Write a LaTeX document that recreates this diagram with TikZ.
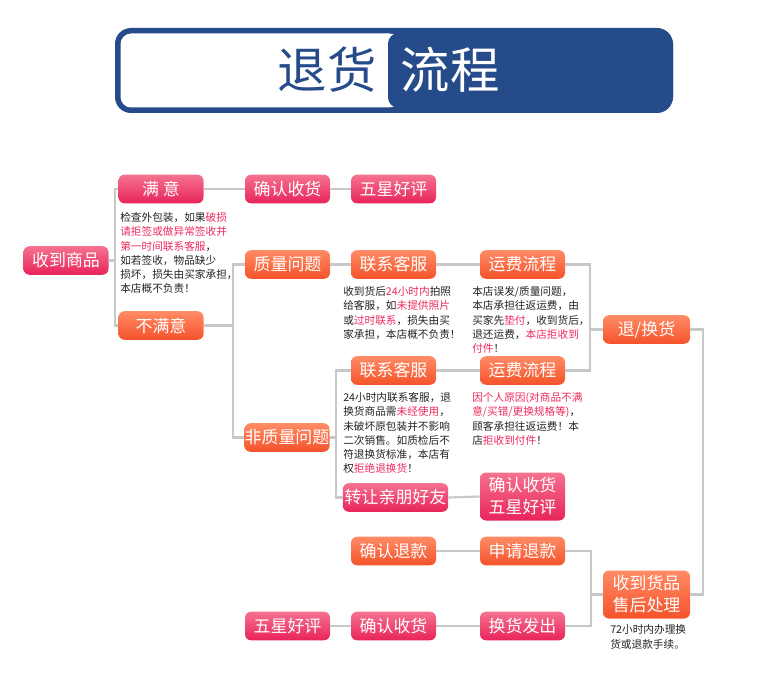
\documentclass[tikz,border=0pt]{standalone}
\usepackage{fontspec}
\setmainfont{Noto Sans CJK SC}
\usepackage{xcolor}
\usetikzlibrary{positioning,calc}

\definecolor{navy}{HTML}{264B8A}
\definecolor{pinktop}{HTML}{F5728F}
\definecolor{pinkbot}{HTML}{E8245A}
\definecolor{orangetop}{HTML}{FF8C66}
\definecolor{orangebot}{HTML}{F5522A}
\definecolor{linegray}{HTML}{C8C8C8}
\definecolor{alertred}{HTML}{EE2A5E}
\definecolor{textdark}{HTML}{222222}

\newcommand{\redtxt}[1]{\textcolor{alertred}{#1}}

\tikzset{
	box/.style={rounded corners=4.5pt, minimum width=63.75pt, minimum height=21.4pt, inner sep=0pt, text=white, font=\fontsize{12.7}{16.5}\selectfont, align=center},
	pinkbox/.style={box, top color=pinktop, bottom color=pinkbot},
	orangebox/.style={box, top color=orangetop, bottom color=orangebot},
	tallbox/.style={minimum height=36pt},
	note/.style={anchor=north west, inner sep=0pt, align=left, text=textdark, font=\fontsize{8}{10.6}\selectfont},
	link/.style={draw=linegray, line width=1.6pt}
}

\begin{document}
\begin{tikzpicture}[x=0.75pt, y=-0.75pt]
				\useasboundingbox (0,0) rectangle (780,688);
				\fill[navy, rounded corners=12pt] (115,28) rectangle (673,113);
				\fill[white, rounded corners=8pt] (120.5,33.5) rectangle (400,107.5);
				\fill[navy, rounded corners=8pt] (388,33) rectangle (673,108);
				\node[text=navy, font=\fontsize{37}{40}\selectfont] (title1) at (327,70) {退货};
				\node[text=white, font=\fontsize{37}{40}\selectfont] (title2) at (450,70) {流程};

				\node[pinkbox] (got) at (66,260.5) {收到商品};
				\node[pinkbox] (ok) at (161,189) {满 意};
				\node[orangebox] (notok) at (161,325.5) {不满意};
				\node[pinkbox] (confirm1) at (287.5,189) {确认收货};
				\node[pinkbox] (star1) at (393.5,189) {五星好评};
				\node[orangebox] (quality) at (287.5,264.5) {质量问题};
				\node[orangebox] (contact1) at (393.5,264.5) {联系客服};
				\node[orangebox] (fee1) at (522.5,264.5) {运费流程};
				\node[orangebox, minimum width=65.25pt] (retx) at (646.5,329.5) {退/换货};
				\node[orangebox] (contact2) at (393.5,370.5) {联系客服};
				\node[orangebox] (fee2) at (522.5,370.5) {运费流程};
				\node[orangebox] (nonquality) at (287,437.5) {非质量问题};
				\node[pinkbox, minimum width=79pt] (transfer) at (395.5,497.5) {转让亲朋好友};
				\node[pinkbox, tallbox] (confirm2) at (522.5,496.5) {确认收货\\五星好评};
				\node[orangebox] (refund) at (393.5,551) {确认退款};
				\node[orangebox] (apply) at (522.5,551) {申请退款};
				\node[orangebox, tallbox, minimum width=65.25pt] (after) at (646.5,594.5) {收到货品\\售后处理};
				\node[pinkbox] (star3) at (287.5,626) {五星好评};
				\node[pinkbox] (confirm3) at (393.5,626) {确认收货};
				\node[pinkbox] (exchange) at (522.5,626) {换货发出};

				\node[note] (n1) at (120,212.5) {检查外包装，如果\redtxt{破损}\\\redtxt{请拒签或做异常签收并}\\\redtxt{第一时间联系客服}，\\如若签收，物品缺少\\损坏，损失由买家承担，\\本店概不负责！};
				\node[note] (n2) at (343,286.5) {收到货后\redtxt{24小时内}拍照\\给客服，如\redtxt{未提供照片}\\或\redtxt{过时联系}，损失由买\\家承担，本店概不负责！};
				\node[note] (n3) at (472,286.5) {本店误发/质量问题，\\本店承担往返运费，由\\买家先\redtxt{垫付}，收到货后，\\退还运费，\redtxt{本店拒收到}\\\redtxt{付件}！};
				\node[note] (n4) at (343,392.5) {24小时内联系客服，退\\换货商品需\redtxt{未经使用}，\\未破坏原包装并不影响\\二次销售。如质检后不\\符退换货标准，本店有\\权\redtxt{拒绝退换货}！};
				\node[note] (n5) at (472,392.5) {\redtxt{因个人原因(对商品不满}\\\redtxt{意/买错/更换规格等)}，\\顾客承担往返运费！本\\店\redtxt{拒收到付件}！};
				\node[note, font=\fontsize{8}{11.2}\selectfont] (n6) at (610,624.5) {72小时内办理换\\货或退款手续。};

				\coordinate (bus1) at (115,260.5);
				\coordinate (bus2) at (233,325.5);
				\coordinate (bus3) at (590,329.5);
				\coordinate (bus4) at (703,329.5);
				\coordinate (bus5) at (591,594.5);
				\coordinate (bus6) at (336,437.5);

				\draw[link] (got.east) -- (bus1);
				\draw[link] (ok.west) -| (bus1) |- (notok.west);
				\draw[link] (ok.east) -- (confirm1.west);
				\draw[link] (confirm1.east) -- (star1.west);
				\draw[link] (notok.east) -- (bus2);
				\draw[link] (quality.west) -| (bus2) |- (nonquality.west);
				\draw[link] (quality.east) -- (contact1.west);
				\draw[link] (contact1.east) -- (fee1.west);
				\draw[link] (fee1.east) -| (bus3) |- (fee2.east);
				\draw[link] (bus3) -- (retx.west);
				\draw[link] (retx.east) -- (bus4) |- (after.east);
				\draw[link] (apply.east) -| (bus5) |- (exchange.east);
				\draw[link] (bus5) -- (after.west);
				\draw[link] (refund.east) -- (apply.west);
				\draw[link] (star3.east) -- (confirm3.west);
				\draw[link] (confirm3.east) -- (exchange.west);
				\draw[link] (nonquality.east) -- (bus6);
				\draw[link] (contact2.west) -| (bus6) |- (transfer.west);
				\draw[link] (contact2.east) -- (fee2.west);
				\draw[link] (transfer.east) -- (confirm2.west);
			\end{tikzpicture}
\end{document}
